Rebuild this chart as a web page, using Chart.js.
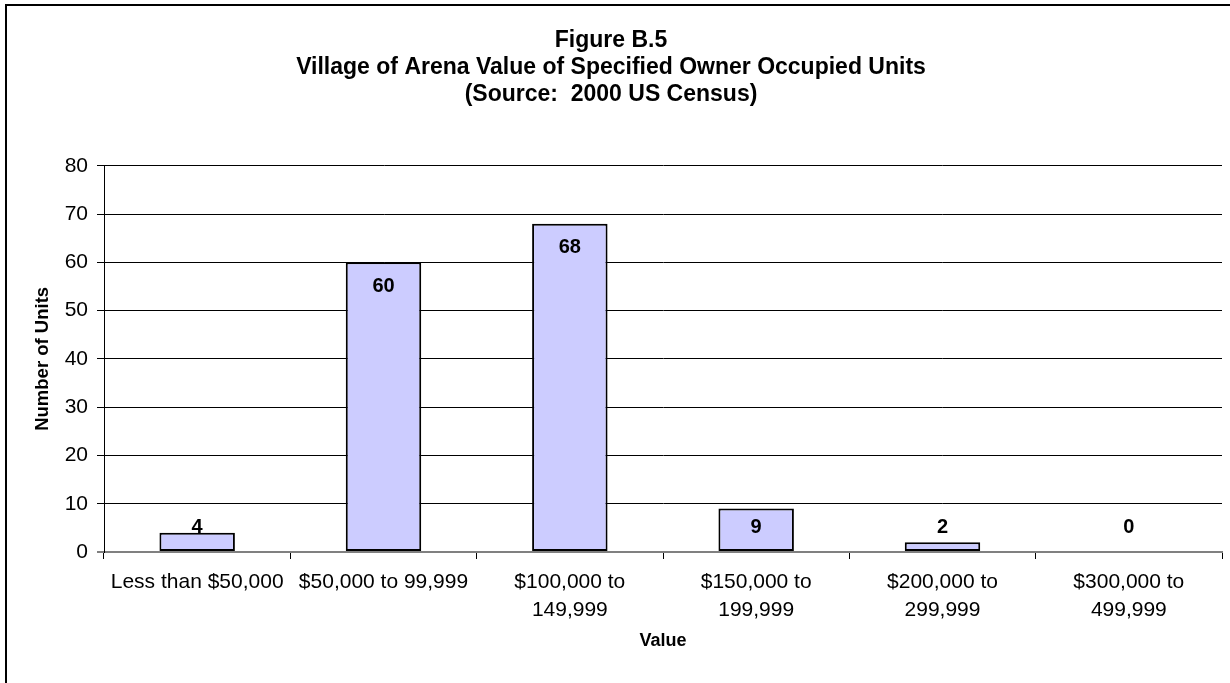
<!DOCTYPE html>
<html>
<head>
<meta charset="utf-8">
<script src="https://cdn.jsdelivr.net/npm/chart.js@4.4.1/dist/chart.umd.min.js"></script>
<style>
  html, body { margin: 0; padding: 0; background: #fff; }
  #wrap { position: relative; width: 1230px; height: 683px; }
</style>
</head>
<body>
<div id="wrap"><canvas id="valueChart" width="1230" height="683"></canvas></div>
<script>
// Village of Arena - value of specified owner occupied units (2000 US Census)
const categories = [
  'Less than $50,000',
  '$50,000 to 99,999',
  ['$100,000 to', '149,999'],
  ['$150,000 to', '199,999'],
  ['$200,000 to', '299,999'],
  ['$300,000 to', '499,999']
];
const units = [4, 60, 68, 9, 2, 0];
const yTicks = [0, 10, 20, 30, 40, 50, 60, 70, 80];
const titleLines = ['Figure B.5', 'Village of Arena Value of Specified Owner Occupied Units', '(Source:  2000 US Census)'];

const FONT = 'Arial, "Liberation Sans", Helvetica, sans-serif';

// outer frame (only top/left edges are visible in the window)
const framePlugin = {
  id: 'frame',
  beforeDraw(chart) {
    const c = chart.ctx;
    c.save();
    c.strokeStyle = '#000';
    c.lineWidth = 2;
    c.beginPath();
    c.moveTo(6, 700);
    c.lineTo(6, 5);
    c.lineTo(1240, 5);
    c.stroke();
    c.restore();
  }
};

// bold value labels, inside the bar top (kept above the baseline for short bars)
const valueLabels = {
  id: 'valueLabels',
  afterDatasetsDraw(chart) {
    const c = chart.ctx;
    const meta = chart.getDatasetMeta(0);
    const base = chart.scales.y.getPixelForValue(0);
    c.save();
    c.font = 'bold 20px ' + FONT;
    c.fillStyle = '#000';
    c.textAlign = 'center';
    c.textBaseline = 'middle';
    meta.data.forEach(function(bar, i) {
      const y = Math.min(bar.y + 24, base - 25);
      c.fillText(String(units[i]), bar.x, y);
    });
    c.restore();
  }
};

new Chart(document.getElementById('valueChart'), {
  type: 'bar',
  data: {
    labels: categories,
    datasets: [{
      label: 'Number of Units',
      data: units,
      backgroundColor: '#ccccff',
      borderColor: '#000',
      borderWidth: 2,
      borderSkipped: false,
      barPercentage: 0.405,
      categoryPercentage: 1
    }]
  },
  options: {
    responsive: false,
    animation: false,
    layout: { padding: { left: 0, right: 8, top: 0, bottom: 0 } },
    plugins: {
      legend: { display: false },
      tooltip: { enabled: false },
      title: {
        display: true,
        text: titleLines,
        color: '#000',
        font: { family: FONT, size: 23, weight: 'bold', lineHeight: 1.17 },
        padding: { top: 27, bottom: 58 }
      }
    },
    scales: {
      x: {
        offset: true,
        grid: {
          offset: true,
          drawOnChartArea: false,
          color: '#000',
          tickLength: 7
        },
        border: { color: '#808080', width: 2 },
        ticks: {
          color: '#000',
          padding: 9,
          maxRotation: 0,
          autoSkip: false,
          font: { family: FONT, size: 21, lineHeight: 1.33 }
        },
        title: {
          display: true,
          text: 'Value',
          color: '#000',
          font: { family: FONT, size: 18, weight: 'bold' },
          padding: { top: 0, bottom: 31 }
        },
        afterFit(scale) { scale.height = 131; }
      },
      y: {
        min: 0,
        max: 80,
        afterBuildTicks(scale) {
          scale.ticks = yTicks.map(function(v) { return { value: v }; });
        },
        grid: {
          color: function(ctx) { return ctx.tick && ctx.tick.value === 0 ? '#808080' : '#000'; },
          lineWidth: function(ctx) { return ctx.tick && ctx.tick.value === 0 ? 2 : 1; },
          tickLength: 7
        },
        border: { color: '#000', width: 1 },
        ticks: {
          color: '#000',
          padding: 9,
          font: { family: FONT, size: 21 }
        },
        title: {
          display: true,
          text: 'Number of Units',
          color: '#000',
          font: { family: FONT, size: 18.5, weight: 'bold' },
          padding: { top: 32, bottom: 0 }
        },
        afterFit(scale) { scale.width = 104; }
      }
    }
  },
  plugins: [framePlugin, valueLabels]
});
</script>
</body>
</html>
